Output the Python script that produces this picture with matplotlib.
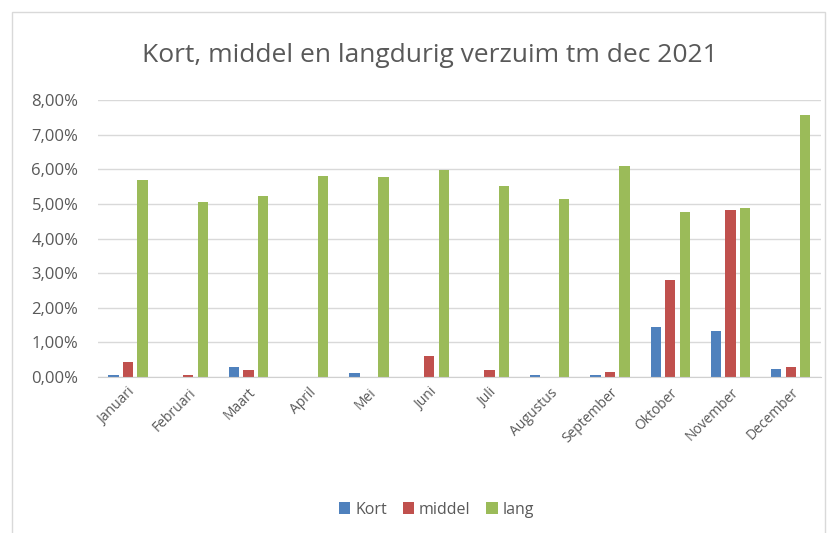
import matplotlib.pyplot as plt
from matplotlib.patches import Rectangle
from matplotlib.ticker import FuncFormatter
import numpy as np

plt.rcParams['font.family'] = ['Open Sans', 'DejaVu Sans']

maanden = ["Januari", "Februari", "Maart", "April", "Mei", "Juni", "Juli",
           "Augustus", "September", "Oktober", "November", "December"]
kort = [0.05, 0.0, 0.27, 0.0, 0.10, 0.0, 0.0, 0.05, 0.05, 1.45, 1.32, 0.24]
middel = [0.43, 0.05, 0.20, 0.0, 0.0, 0.60, 0.20, 0.0, 0.15, 2.80, 4.82, 0.27]
lang = [5.70, 5.05, 5.22, 5.80, 5.77, 5.97, 5.51, 5.14, 6.09, 4.76, 4.88, 7.56]

fig = plt.figure(figsize=(8.36, 5.33), dpi=100)
ax = fig.add_axes([0.117, 0.293, 0.865, 0.519])

x = np.arange(len(maanden))
w = 0.17
off = 0.24
ax.bar(x - off, kort, w, color="#4f81bd", label="Kort")
ax.bar(x, middel, w, color="#c0504d", label="middel")
ax.bar(x + off, lang, w, color="#9bbb59", label="lang")

ax.set_xlim(-0.5, len(maanden) - 0.5)
ax.set_ylim(0, 8)
ax.set_yticks(np.arange(0, 9, 1))
ax.yaxis.set_major_formatter(FuncFormatter(lambda v, p: f"{v:.2f}%".replace(".", ",")))
ax.grid(axis="y", color="#d9d9d9", linewidth=1)
ax.set_axisbelow(True)
for s in ["top", "right", "left"]:
    ax.spines[s].set_visible(False)
ax.spines["bottom"].set_color("#d0d0d0")
ax.tick_params(axis="y", length=0, labelsize=12, labelcolor="#595959", pad=14)
ax.tick_params(axis="x", length=0, labelsize=10, labelcolor="#595959", pad=6)
ax.set_xticks(x)
ax.set_xticklabels(maanden, rotation=45, ha="right", rotation_mode="anchor")

fig.text(0.514, 0.895, "Kort, middel en langdurig verzuim tm dec 2021",
         ha="center", va="center", fontsize=19, color="#595959")
fig.legend(loc="center", bbox_to_anchor=(0.522, 0.044), ncol=3, frameon=False,
           fontsize=11.5, labelcolor="#595959", handlelength=0.7, handleheight=0.7,
           handletextpad=0.3, columnspacing=1.0)

fig.patches.append(Rectangle((0.014, -0.01), 0.973, 0.988, transform=fig.transFigure,
                             fill=False, edgecolor="#d9d9d9", linewidth=1))

fig.savefig("out.png", dpi=100)
